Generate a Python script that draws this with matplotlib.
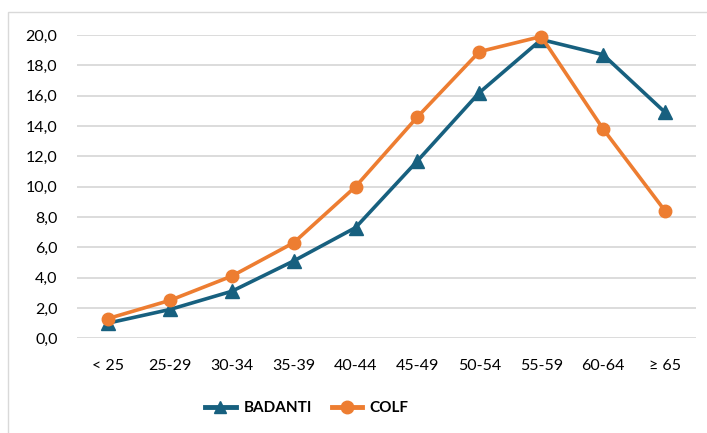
import matplotlib
matplotlib.use("Agg")
import matplotlib.pyplot as plt
from matplotlib.patches import Rectangle
from matplotlib.lines import Line2D

categories = ["< 25", "25-29", "30-34", "35-39", "40-44", "45-49", "50-54", "55-59", "60-64", "≥ 65"]
badanti = [1.0, 1.9, 3.1, 5.1, 7.3, 11.7, 16.2, 19.7, 18.7, 14.9]
colf = [1.3, 2.5, 4.1, 6.3, 10.0, 14.6, 18.9, 19.9, 13.8, 8.4]
yticks = [0, 2, 4, 6, 8, 10, 12, 14, 16, 18, 20]
ytick_labels = ["0,0", "2,0", "4,0", "6,0", "8,0", "10,0", "12,0", "14,0", "16,0", "18,0", "20,0"]

BLUE = "#17607F"
ORANGE = "#ED7D31"
GRID = "#D9D9D9"

plt.rcParams['font.family'] = ['Lato', 'DejaVu Sans']

W, H = 707, 433
fig = plt.figure(figsize=(W / 100, H / 100), dpi=100)
fig.patch.set_facecolor("white")

# chart frame
fig.patches.append(Rectangle((8 / W, -0.1), 1.2, (H - 12) / H + 0.1,
                             transform=fig.transFigure, fill=False,
                             edgecolor=GRID, linewidth=1.0))

ax = fig.add_axes([77 / W, (H - 338.3) / H, (696 - 77) / W, (338.3 - 35) / H])
x = list(range(len(categories)))

ax.plot(x, badanti, color=BLUE, linewidth=2.6, marker="^", markersize=9.5,
        clip_on=False, zorder=3, label="BADANTI")
ax.plot(x, colf, color=ORANGE, linewidth=2.6, marker="o", markersize=9,
        clip_on=False, zorder=4, label="COLF")

ax.set_xlim(-0.5, len(categories) - 0.5)
ax.set_ylim(0, 20)
ax.set_yticks(yticks)
ax.set_yticklabels(ytick_labels)
ax.set_xticks(x)
ax.set_xticklabels(categories)
ax.tick_params(axis="y", length=0, pad=14, labelsize=11.5, labelcolor="#000000")
ax.tick_params(axis="x", length=0, pad=15, labelsize=11.5, labelcolor="#000000")
ax.grid(axis="y", color=GRID, linewidth=1.3)
ax.set_axisbelow(True)
for s in ax.spines.values():
    s.set_visible(False)

handles = [Line2D([0], [0], color=BLUE, linewidth=3.5, marker="^", markersize=9),
           Line2D([0], [0], color=ORANGE, linewidth=3.5, marker="o", markersize=9)]
fig.legend(handles, ["BADANTI", "COLF"], loc="center", bbox_to_anchor=(307 / W, (H - 408) / H),
           ncol=2, frameon=False, prop={"size": 11, "weight": "bold"},
           handlelength=2.0, handletextpad=0.5, columnspacing=1.3)

fig.savefig("out.png", dpi=100, facecolor="white")
